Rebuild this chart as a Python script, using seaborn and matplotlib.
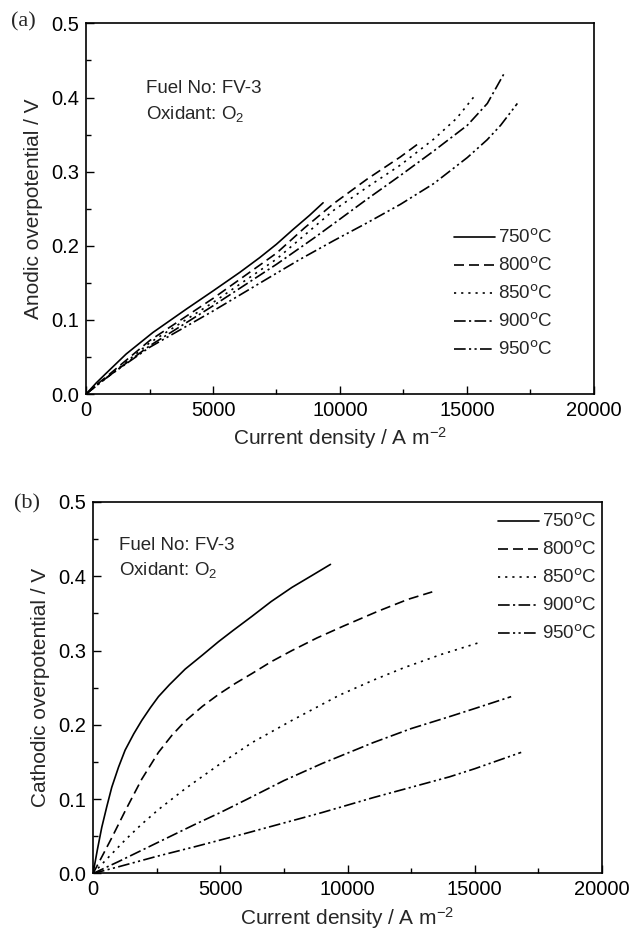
import numpy as np
import pandas as pd
import matplotlib
matplotlib.use("Agg")
import matplotlib.pyplot as plt
import seaborn as sns
from matplotlib.ticker import MultipleLocator

# ---------------- data ----------------
temps = ["750", "800", "850", "900", "950"]

# (a) anodic overpotential
an_x_750 = [0, 400, 789, 1578, 2630, 3945, 4997, 6049, 6838, 7496, 8153, 8800, 9337]
an_y_750 = [0, 0.015, 0.028, 0.054, 0.083, 0.1145, 0.139, 0.164, 0.184, 0.202, 0.222, 0.241, 0.258]
an_x_800 = [0, 500, 1000, 2500, 5000, 7500, 8600, 9755, 11073, 12387, 13176]
an_y_800 = [0, 0.015, 0.029, 0.072, 0.129, 0.190, 0.224, 0.257, 0.290, 0.320, 0.340]
an_x_850 = [0, 500, 1000, 2500, 5000, 7500, 9758, 11073, 12387, 13700, 14600, 15279]
an_y_850 = [0, 0.014, 0.027, 0.069, 0.1235, 0.182, 0.248, 0.279, 0.309, 0.344, 0.372, 0.401]
an_x_900 = [0, 500, 1000, 2500, 5000, 7500, 9000, 10000, 11073, 12387, 13700, 15018, 15807, 16462]
an_y_900 = [0, 0.014, 0.027, 0.065, 0.119, 0.175, 0.211, 0.236, 0.263, 0.295, 0.328, 0.3625, 0.392, 0.432]
an_x_950 = [0, 500, 1000, 2500, 5000, 7500, 8442, 9758, 11073, 12387, 13700, 15018, 15800, 16330, 16990]
an_y_950 = [0, 0.014, 0.027, 0.063, 0.112, 0.163, 0.182, 0.207, 0.231, 0.256, 0.284, 0.319, 0.343, 0.3625, 0.392]

# (b) cathodic overpotential
ca_x_750 = [0, 170, 342, 540, 735, 1000, 1260, 1600, 1915, 2250, 2570, 3000, 3618,
            4300, 4931, 5500, 6241, 7000, 7814, 8600, 9330]
ca_y_750 = [0, 0.032, 0.062, 0.090, 0.116, 0.143, 0.166, 0.188, 0.206, 0.223, 0.238, 0.254, 0.275,
            0.294, 0.312, 0.327, 0.346, 0.366, 0.385, 0.401, 0.416]
ca_x_800 = [0, 400, 735, 1260, 1915, 2570, 3100, 3618, 4300, 4931, 5600, 6241, 7000, 7814,
            8800, 9841, 11200, 12380, 13330]
ca_y_800 = [0, 0.026, 0.048, 0.084, 0.127, 0.163, 0.186, 0.205, 0.225, 0.241, 0.256, 0.269, 0.285, 0.300,
            0.317, 0.333, 0.353, 0.369, 0.379]
ca_x_850 = [0, 500, 1260, 1900, 2570, 3618, 4931, 6241, 7814, 9683, 11000, 12222, 13700, 15200]
ca_y_850 = [0, 0.018, 0.045, 0.066, 0.086, 0.114, 0.146, 0.176, 0.206, 0.240, 0.260, 0.277, 0.295, 0.311]
ca_x_900 = [0, 1000, 2500, 4000, 5000, 6000, 7500, 9000, 10000, 11000, 12500, 14000, 15000, 16430]
ca_y_900 = [0, 0.016, 0.041, 0.066, 0.082, 0.099, 0.125, 0.148, 0.162, 0.176, 0.195, 0.211, 0.222, 0.238]
ca_x_950 = [0, 1000, 2500, 4000, 5000, 6000, 7500, 9000, 10000, 11000, 12500, 14000, 15000, 16825]
ca_y_950 = [0, 0.009, 0.023, 0.036, 0.045, 0.054, 0.068, 0.082, 0.092, 0.102, 0.116, 0.130, 0.141, 0.163]

x_ticks = [0, 5000, 10000, 15000, 20000]
y_ticks = [0.0, 0.1, 0.2, 0.3, 0.4, 0.5]


def frame(xs, ys):
    rows = []
    for t, x, y in zip(temps, xs, ys):
        rows.append(pd.DataFrame({"j": x, "eta": y,
                                  "T": f"{t}$^{{\\mathrm{{o}}}}$C"}))
    return pd.concat(rows, ignore_index=True)


df_a = frame([an_x_750, an_x_800, an_x_850, an_x_900, an_x_950],
             [an_y_750, an_y_800, an_y_850, an_y_900, an_y_950])
df_b = frame([ca_x_750, ca_x_800, ca_x_850, ca_x_900, ca_x_950],
             [ca_y_750, ca_y_800, ca_y_850, ca_y_900, ca_y_950])

labels = [f"{t}$^{{\\mathrm{{o}}}}$C" for t in temps]
dash_styles = dict(zip(labels, ["", (6, 3), (1.3, 3), (7, 2, 1.3, 2),
                                (7, 2, 1.3, 2, 1.3, 2)]))

# ---------------- style ----------------
sns.set_theme(style="ticks")
plt.rcParams["font.family"] = ["Liberation Sans", "DejaVu Sans"]
plt.rcParams["mathtext.default"] = "regular"

fig = plt.figure(figsize=(6.33, 9.36), dpi=100)
ax_a = fig.add_axes([0.136, 0.579, 0.802, 0.396])
ax_b = fig.add_axes([0.147, 0.0668, 0.804, 0.3969])


def style_axis(ax, ylabel):
    ax.set_xlim(0, 20000)
    ax.set_ylim(0, 0.5)
    ax.set_xticks(x_ticks)
    ax.set_yticks(y_ticks)
    ax.set_xticklabels([str(v) for v in x_ticks])
    ax.set_yticklabels([f"{v:.1f}" for v in y_ticks])
    ax.xaxis.set_minor_locator(MultipleLocator(2500))
    ax.yaxis.set_minor_locator(MultipleLocator(0.05))
    ax.tick_params(which="both", direction="in", top=False, right=False,
                   labelsize=14.5, colors="black", width=1.0)
    ax.tick_params(which="major", length=6, pad=5)
    ax.tick_params(which="minor", length=3.5)
    for s in ax.spines.values():
        s.set_visible(True)
        s.set_linewidth(1.2)
        s.set_color("black")
    ax.set_xlabel("Current density / A m$^{-2}$", fontsize=15, labelpad=4)
    ax.set_ylabel(ylabel, fontsize=15, labelpad=6)


for ax, df, ylab in [(ax_a, df_a, "Anodic overpotential / V"),
                     (ax_b, df_b, "Cathodic overpotential / V")]:
    sns.lineplot(data=df, x="j", y="eta", style="T", dashes=dash_styles,
                 color="black", linewidth=1.2, sort=False, estimator=None,
                 ax=ax, legend=True)
    style_axis(ax, ylab)

# legends
leg_a = ax_a.legend(loc="upper left", bbox_to_anchor=(0.71, 0.467),
                    frameon=False, fontsize=13.5, handlelength=2.2,
                    handletextpad=0.15, labelspacing=0.5, borderaxespad=0)
leg_b = ax_b.legend(loc="upper left", bbox_to_anchor=(0.781, 0.992),
                    frameon=False, fontsize=13.5, handlelength=2.2,
                    handletextpad=0.15, labelspacing=0.5, borderaxespad=0)
for leg in (leg_a, leg_b):
    for h in leg.get_lines():
        h.set_color("black")
        h.set_linewidth(1.2)

# annotations
ax_a.text(2360, 0.412, "Fuel No: FV-3", fontsize=13.5, va="center", ha="left")
ax_a.text(2360, 0.378, "Oxidant: O$_2$", fontsize=13.5, va="center", ha="left")
ax_b.text(1030, 0.442, "Fuel No: FV-3", fontsize=13.5, va="center", ha="left")
ax_b.text(1030, 0.408, "Oxidant: O$_2$", fontsize=13.5, va="center", ha="left")

fig.text(0.018, 0.9768, "(a)", fontsize=16, va="center", ha="left",
         family=["Liberation Serif", "DejaVu Serif"])
fig.text(0.022, 0.462, "(b)", fontsize=16, va="center", ha="left",
         family=["Liberation Serif", "DejaVu Serif"])

fig.savefig("out.png", dpi=100, facecolor="white")
